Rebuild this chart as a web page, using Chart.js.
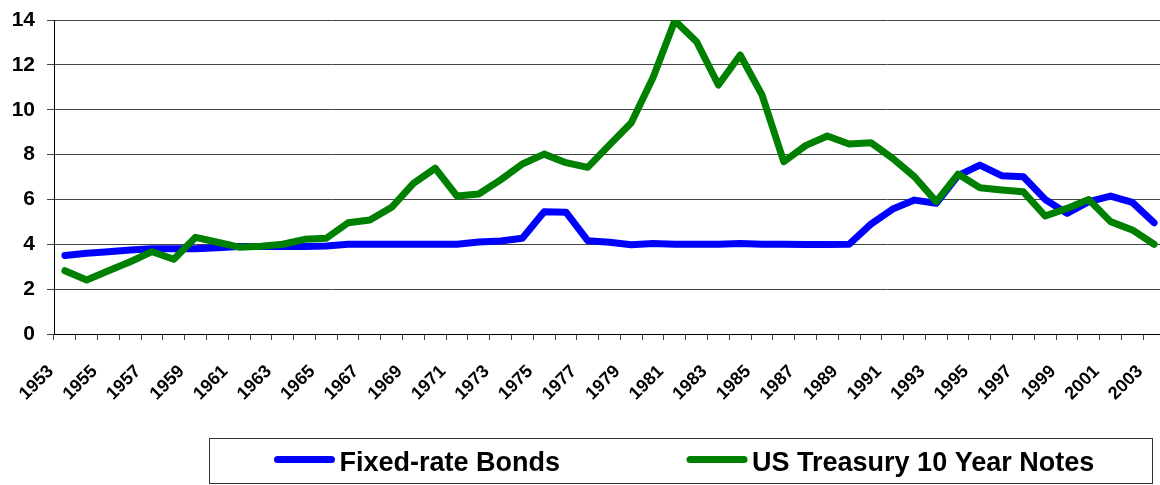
<!DOCTYPE html>
<html>
<head>
<meta charset="utf-8">
<script src="https://cdn.jsdelivr.net/npm/chart.js@4/dist/chart.umd.min.js"></script>
<style>
  html, body { margin: 0; padding: 0; background: #fff; overflow: hidden; }
  #wrap { width: 1160px; height: 485px; overflow: hidden; }
</style>
</head>
<body>
<div id="wrap"><canvas id="bonds-chart" width="1166" height="485"></canvas></div>
<script>
// years on the x axis
const years = [
  "1953", "1954", "1955", "1956", "1957", "1958", "1959", "1960", "1961", "1962",
  "1963", "1964", "1965", "1966", "1967", "1968", "1969", "1970", "1971", "1972",
  "1973", "1974", "1975", "1976", "1977", "1978", "1979", "1980", "1981", "1982",
  "1983", "1984", "1985", "1986", "1987", "1988", "1989", "1990", "1991", "1992",
  "1993", "1994", "1995", "1996", "1997", "1998", "1999", "2000", "2001", "2002", "2003"
];

// Fixed-rate Bonds (%)
const fixedRate = [
  3.5, 3.6, 3.67, 3.75, 3.8, 3.8, 3.8, 3.85, 3.9, 3.9,
  3.9, 3.9, 3.92, 4.0, 4.0, 4.0, 4.0, 4.0, 4.0, 4.1,
  4.15, 4.27, 5.45, 5.43, 4.16, 4.09, 3.98, 4.03, 4.0, 4.0,
  4.0, 4.04, 4.0, 4.0, 3.99, 3.99, 4.0, 4.9, 5.57, 5.97,
  5.83, 7.06, 7.53, 7.06, 7.01, 6.0, 5.38, 5.9, 6.15, 5.87, 4.96
];

// US Treasury 10 Year Notes (%)
const treasury10 = [
  2.82, 2.41, 2.82, 3.22, 3.67, 3.33, 4.31, 4.09, 3.87, 3.91,
  4.0, 4.22, 4.27, 4.96, 5.08, 5.65, 6.72, 7.39, 6.15, 6.24,
  6.87, 7.58, 8.02, 7.64, 7.43, 8.43, 9.42, 11.44, 13.97, 13.03,
  11.1, 12.44, 10.66, 7.68, 8.4, 8.83, 8.47, 8.53, 7.83, 7.01,
  5.9, 7.13, 6.52, 6.42, 6.34, 5.26, 5.6, 6.0, 5.01, 4.64, 4.0
];

const yTicks = [0, 2, 4, 6, 8, 10, 12, 14];

const FONT = '"Liberation Sans", Arial, sans-serif';
Chart.defaults.font.family = FONT;
Chart.defaults.color = "#000";

// legend in a box, like the excel one
const legendBox = {
  id: "legendBox",
  afterDraw(chart) {
    const ctx = chart.ctx;
    ctx.save();
    ctx.strokeStyle = "#333";
    ctx.lineWidth = 1;
    ctx.strokeRect(209.5, 438.5, 943, 45);
    ctx.font = "bold 27px " + FONT;
    ctx.textBaseline = "alphabetic";
    let x = 277.5;
    chart.data.datasets.forEach((ds) => {
      ctx.strokeStyle = ds.borderColor;
      ctx.lineWidth = 7;
      ctx.lineCap = "round";
      ctx.beginPath();
      ctx.moveTo(x, 459.5);
      ctx.lineTo(x + 54, 459.5);
      ctx.stroke();
      ctx.fillStyle = "#000";
      ctx.fillText(ds.label, x + 62, 471);
      x += 62 + ctx.measureText(ds.label).width + 130;
    });
    ctx.restore();
  },
};

const ctx = document.getElementById("bonds-chart").getContext("2d");
const bondsChart = new Chart(ctx, {
  type: "line",
  data: {
    labels: years,
    datasets: [
      {
        label: "Fixed-rate Bonds",
        data: fixedRate,
        borderColor: "#0000ff",
        backgroundColor: "#0000ff",
        borderWidth: 7,
        borderCapStyle: "round",
        borderJoinStyle: "round",
        pointRadius: 0,
        tension: 0,
        fill: false,
        order: 1,
      },
      {
        label: "US Treasury 10 Year Notes",
        data: treasury10,
        borderColor: "#008000",
        backgroundColor: "#008000",
        borderWidth: 7,
        borderCapStyle: "round",
        borderJoinStyle: "round",
        pointRadius: 0,
        tension: 0,
        fill: false,
        order: 0,
      },
    ],
  },
  options: {
    responsive: false,
    animation: false,
    layout: { padding: { top: 20, right: 1, left: 0, bottom: 0 } },
    plugins: {
      legend: { display: false },
      tooltip: { enabled: false },
    },
    scales: {
      x: {
        offset: true,
        grid: {
          offset: true,
          drawOnChartArea: false,
          drawTicks: true,
          tickLength: 6,
          color: "#444",
        },
        border: { color: "#000", width: 1 },
        ticks: {
          autoSkip: false,
          minRotation: 45,
          maxRotation: 45,
          padding: 21,
          labelOffset: -14,
          font: { size: 18, weight: "bold" },
          color: "#000",
          callback: (v, i) => (i % 2 === 0 ? years[i] : ""),
        },
        afterFit: (scale) => {
          scale.height = 151;
          scale.paddingLeft = 0;
          scale.paddingRight = 0;
        },
      },
      y: {
        min: yTicks[0],
        max: yTicks[yTicks.length - 1],
        afterBuildTicks: (scale) => {
          scale.ticks = yTicks.map((v) => ({ value: v }));
        },
        grid: { color: "#444", tickLength: 7 },
        border: { color: "#000", width: 1 },
        ticks: {
          padding: 12,
          font: { size: 21, weight: "bold" },
          color: "#000",
        },
        afterFit: (scale) => {
          scale.width = 54;
          scale.paddingTop = 0;
          scale.paddingBottom = 0;
        },
      },
    },
  },
  plugins: [legendBox],
});
</script>
</body>
</html>
